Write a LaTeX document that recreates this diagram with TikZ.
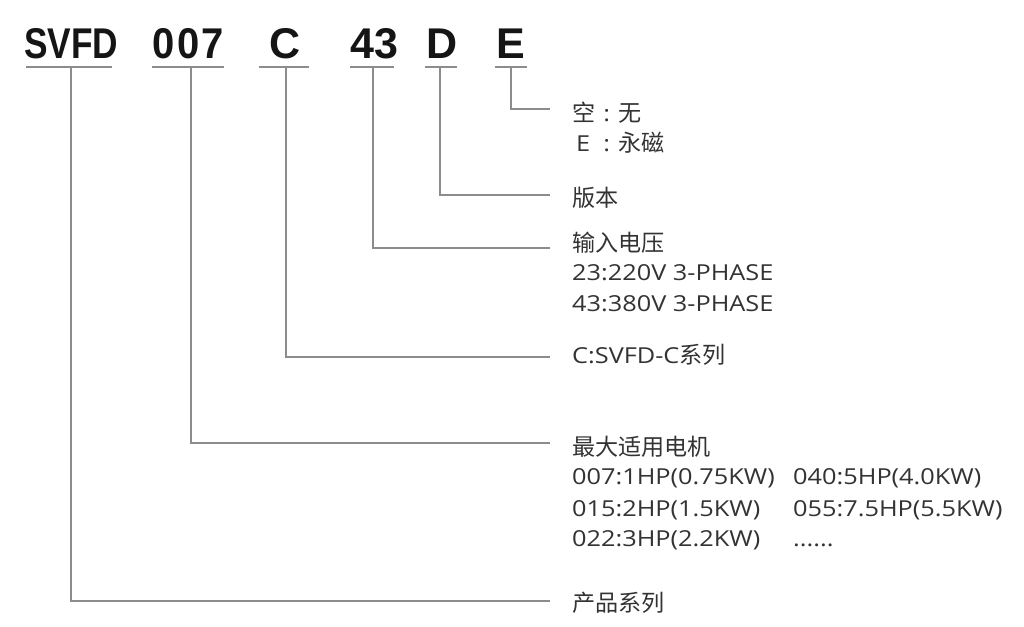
\documentclass[tikz,border=0pt]{standalone}
\usepackage{fontspec}
\newfontfamily\hdrfont{Liberation Sans}
\newfontfamily\latfont{Open Sans}[FakeStretch=1.15]
\newfontfamily\cjkfont{Noto Sans CJK SC}[Scale=1.05]
\newcommand\lat[1]{{\latfont #1}}
\newcommand\cj[1]{{\cjkfont #1}}
\newcommand\nd[1]{\makebox[24.5pt]{\scalebox{0.93}[1]{#1}}}
\newcommand\nl[1]{\makebox[23pt]{\scalebox{0.82}[1]{#1}}}
\definecolor{hdrc}{HTML}{151515}
\definecolor{txtc}{HTML}{333333}
\definecolor{linec}{HTML}{8C8C8C}
\begin{document}
\begin{tikzpicture}[x=1pt,y=-1pt,
  hdr/.style={font=\hdrfont\bfseries\fontsize{43}{43}\selectfont, text=hdrc, inner sep=0pt, anchor=base},
  lbl/.style={font=\latfont\fontsize{22}{26}\selectfont, text=txtc, inner sep=0pt, anchor=base west},
  ln/.style={draw=linec, line width=1.5pt}]
\useasboundingbox[fill=white] (0,0) rectangle (1024,626);

% header codes
\node[hdr] (svfd) at (71,59) {\nl{S}\nl{V}\nl{F}\nl{D}};
\node[hdr] (n007) at (188.5,59) {\nd{0}\nd{0}\nd{7}};
\node[hdr] (nC) at (285,59) {C};
\node[hdr] (n43) at (374.5,59) {43};
\node[hdr] (nD) at (442.5,59) {D};
\node[hdr] (nE) at (511,59) {E};

% underline end points
\coordinate (uSa) at (26,67);  \coordinate (uSb) at (112,67);
\coordinate (u0a) at (152,67); \coordinate (u0b) at (224,67);
\coordinate (uCa) at (259,67); \coordinate (uCb) at (309,67);
\coordinate (u4a) at (350,67); \coordinate (u4b) at (394,67);
\coordinate (uDa) at (425,67); \coordinate (uDb) at (457,67);
\coordinate (uEa) at (495,67); \coordinate (uEb) at (527,67);
\foreach \a/\b in {uSa/uSb,u0a/u0b,uCa/uCb,u4a/u4b,uDa/uDb,uEa/uEb}
  \draw[ln] (\a) -- (\b);

% leader start points and end points
\coordinate (tS) at (71,67);  \coordinate (eS) at (550,601);
\coordinate (t0) at (191,67); \coordinate (e0) at (550,443);
\coordinate (tC) at (286,67); \coordinate (eC) at (550,357);
\coordinate (t4) at (373,67); \coordinate (e4) at (550,248);
\coordinate (tD) at (440,67); \coordinate (eD) at (550,195);
\coordinate (tE) at (511,67); \coordinate (eE) at (550,109);
\foreach \a/\b in {tS/eS,t0/e0,tC/eC,t4/e4,tD/eD,tE/eE}
  \draw[ln] (\a) |- (\b);

% labels
\node[lbl] (lE1) at (572,121) {\cj{空}\makebox[23pt]{:}\cj{无}};
\node[lbl] (lE2) at (572,151) {\makebox[23pt][l]{\hspace{4pt}E}\makebox[23pt]{:}\cj{永磁}};
\node[lbl] (lD) at (572,206) {\cj{版本}};
\node[lbl] (l41) at (572,251) {\cj{输入电压}};
\node[lbl] (l42) at (572,280) {23:220V 3-PHASE};
\node[lbl] (l43) at (572,311) {43:380V 3-PHASE};
\node[lbl] (lC) at (572,363) {C:SVFD-C\cj{系列}};
\node[lbl] (l01) at (572,455) {\cj{最大适用电机}};
\node[lbl] (l02) at (572,484) {007:1HP(0.75KW)};
\node[lbl] (l03) at (572,516) {015:2HP(1.5KW)};
\node[lbl] (l04) at (572,546) {022:3HP(2.2KW)};
\node[lbl] (l05) at (793,484) {040:5HP(4.0KW)};
\node[lbl] (l06) at (793,516) {055:7.5HP(5.5KW)};
\node[lbl] (l07) at (793,546) {......};
\node[lbl] (lS) at (572,611) {\cj{产品系列}};
\end{tikzpicture}
\end{document}
